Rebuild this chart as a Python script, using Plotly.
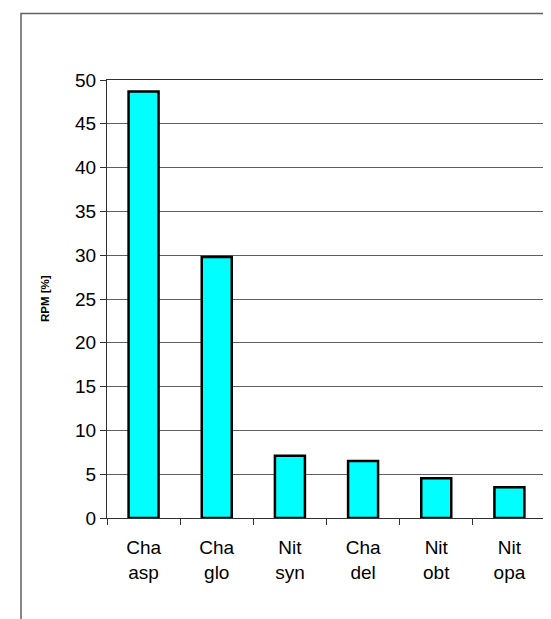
import plotly.graph_objects as go

categories = ["Cha<br>asp", "Cha<br>glo", "Nit<br>syn", "Cha<br>del", "Nit<br>obt", "Nit<br>opa"]
rpm_values = [48.7, 29.8, 7.1, 6.5, 4.55, 3.5]
y_tick_values = [0, 5, 10, 15, 20, 25, 30, 35, 40, 45, 50]

W, H = 551, 619
L, R, T, B = 99, 13, 72, 109
pw, ph = W - L - R, H - T - B

fig = go.Figure()
fig.add_trace(go.Bar(
    x=categories, y=rpm_values,
    marker=dict(color="#00FFFF", line=dict(color="black", width=2.5)),
))

fig.update_layout(
    width=W, height=H,
    margin=dict(l=L, r=R, t=T, b=B, pad=0),
    paper_bgcolor="white", plot_bgcolor="white",
    bargap=0.59,
    showlegend=False,
    font=dict(family="Liberation Sans, Arial, sans-serif", size=19, color="black"),
)
fig.update_xaxes(
    type="category",
    showline=True, linecolor="#303030", linewidth=1, mirror=True,
    ticks="outside", tickson="boundaries", ticklen=6, tickcolor="#303030",
    tickfont=dict(size=19), ticklabelstandoff=12,
    showgrid=False,
)
fig.update_yaxes(
    range=[0, 50], tickvals=y_tick_values,
    showline=True, linecolor="#303030", linewidth=1, mirror=True,
    ticks="outside", ticklen=6, tickcolor="#303030",
    showgrid=True, gridcolor="#606060", gridwidth=1,
    tickfont=dict(size=19),
    zeroline=False,
)
fig.add_annotation(
    text="<b>RPM [%]</b>", textangle=-90,
    xref="paper", yref="paper",
    x=(37 - L) / pw, y=0.5, xanchor="center", yanchor="middle",
    showarrow=False, font=dict(size=11.5, color="black"),
)
# outer chart-area frame (extends beyond the window at right and bottom)
fig.add_shape(
    type="rect", xref="paper", yref="paper",
    x0=(13 - L) / pw, x1=(W + 20 - L) / pw,
    y0=(H - B - (H + 20)) / ph, y1=(H - B - 5.5) / ph,
    line=dict(color="#606060", width=1.5), fillcolor="rgba(0,0,0,0)",
    layer="below",
)

fig.write_html("out.html")
